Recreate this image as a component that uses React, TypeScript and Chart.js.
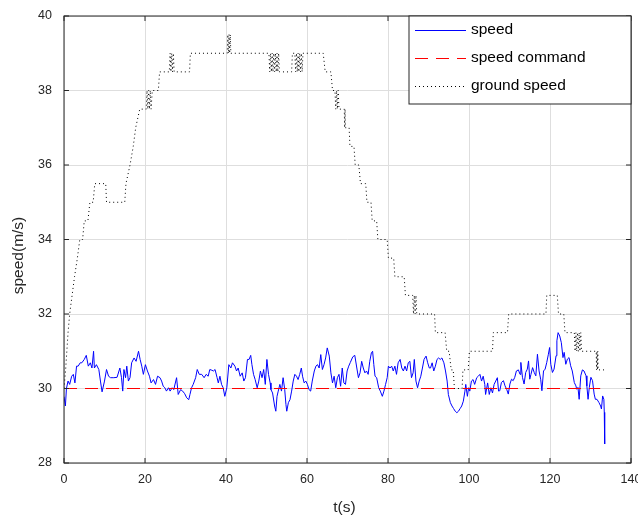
import React, { useEffect, useRef } from "react";
import { Chart, registerables } from "chart.js";

Chart.register(...registerables);

const xTickValues = [0, 20, 40, 60, 80, 100, 120, 140];
const yTickValues = [28, 30, 32, 34, 36, 38, 40];
const seriesLabels = ["speed", "speed command", "ground speed"];
const seriesColors = ["#0000ff", "#ff0000", "#000000"];
const seriesDashes: number[][] = [[], [13, 8], [1, 3]];
const xTitle = "t(s)";
const yTitle = "speed(m/s)";

// speed [t, v]
const speedPoints: [number, number][] = [
  [0, 29.78], [0.35, 29.53], [0.6, 30.0], [1.0, 30.2], [1.4, 30.11], [1.9, 30.33], [2.3, 30.38], [2.7, 30.15],
  [3.1, 30.6], [3.5, 30.6], [4.0, 30.69], [4.4, 30.69], [5.0, 30.78], [5.5, 30.89], [6.0, 30.6], [6.5, 30.69],
  [6.9, 30.55], [7.3, 31.0], [7.5, 30.55], [8.0, 30.64], [8.6, 30.51], [9.0, 30.2], [9.4, 29.91], [10.0, 30.2],
  [10.5, 30.51], [11.0, 30.33], [11.5, 30.29], [12.3, 30.29], [13.1, 30.3], [13.8, 30.55], [14.2, 30.29], [14.5, 29.93],
  [14.8, 30.51], [15.2, 30.29], [15.5, 30.6], [15.9, 30.2], [16.3, 30.29], [16.7, 30.69], [17.3, 30.82], [17.8, 30.73],
  [18.4, 31.0], [18.8, 30.78], [19.2, 30.6], [19.6, 30.38], [20.1, 30.64], [20.6, 30.47], [21.1, 30.33], [21.5, 30.15],
  [22.1, 30.24], [22.6, 30.11], [23.1, 30.33], [23.7, 30.29], [24.1, 30.2], [24.5, 30.06], [24.9, 30.02], [25.3, 29.93],
  [25.8, 30.02], [26.2, 29.93], [26.7, 30.02], [27.1, 29.97], [27.8, 30.29], [28.2, 29.84], [28.8, 29.97], [29.3, 29.93],
  [29.8, 29.86], [30.3, 29.75], [30.8, 29.7], [31.1, 29.84], [31.5, 30.02], [31.9, 30.11], [32.5, 30.29], [32.9, 30.51],
  [33.4, 30.38], [34.0, 30.38], [34.6, 30.29], [35.1, 30.38], [35.6, 30.33], [36.0, 30.51], [36.5, 30.49], [36.9, 30.47],
  [37.3, 30.51], [37.8, 30.29], [38.1, 30.15], [38.5, 30.33], [38.9, 30.11], [39.3, 30.02], [39.7, 29.79], [40.2, 30.02],
  [40.7, 30.64], [41.2, 30.55], [41.6, 30.69], [42.2, 30.6], [42.6, 30.47], [43.0, 30.55], [43.5, 30.33], [44.0, 30.42],
  [44.4, 30.2], [44.8, 30.29], [45.3, 30.78], [45.7, 30.78], [46.1, 30.89], [46.4, 30.64], [46.8, 30.38], [47.2, 30.24],
  [47.7, 30.02], [48.1, 30.2], [48.5, 30.47], [48.9, 30.29], [49.3, 30.51], [49.7, 30.11], [50.1, 30.78], [50.5, 30.38],
  [50.9, 30.15], [51.1, 29.97], [51.5, 29.88], [52.0, 29.53], [52.3, 29.39], [52.6, 29.79], [52.9, 29.93], [53.3, 30.11],
  [53.7, 29.93], [54.1, 30.29], [54.5, 29.97], [54.8, 29.57], [55.0, 29.39], [55.4, 29.62], [55.8, 29.7], [56.2, 29.93],
  [56.6, 30.2], [57.0, 30.38], [57.4, 30.33], [57.8, 30.24], [58.2, 30.38], [58.6, 30.55], [58.9, 30.33], [59.3, 30.15],
  [59.7, 30.2], [60.1, 30.11], [60.5, 29.97], [60.9, 29.93], [61.3, 30.2], [61.8, 30.47], [62.2, 30.6], [62.6, 30.64],
  [63.0, 30.55], [63.4, 30.91], [63.8, 30.51], [64.2, 30.64], [64.6, 30.82], [65.0, 31.09], [65.5, 30.87], [65.9, 30.42],
  [66.3, 30.15], [66.7, 30.33], [67.1, 30.02], [67.5, 30.29], [67.9, 30.38], [68.3, 30.06], [68.7, 30.55], [69.1, 30.15],
  [69.5, 30.11], [69.9, 30.47], [70.3, 30.6], [70.7, 30.7], [71.3, 30.85], [71.8, 30.89], [72.3, 30.55], [72.7, 30.29],
  [73.1, 30.42], [73.5, 30.73], [73.9, 30.55], [74.3, 30.42], [74.7, 30.47], [75.1, 30.38], [75.5, 30.73], [75.9, 30.96],
  [76.2, 31.0], [76.5, 30.64], [76.8, 30.33], [77.2, 30.29], [77.7, 30.02], [78.1, 29.93], [78.6, 29.79], [79.0, 29.93],
  [79.4, 30.11], [79.8, 30.29], [80.1, 30.6], [80.5, 30.55], [80.9, 30.6], [81.3, 30.47], [81.7, 30.6], [82.1, 30.38],
  [82.5, 30.69], [83.0, 30.78], [83.4, 30.55], [83.8, 30.47], [84.2, 30.6], [84.6, 30.47], [85.0, 30.69], [85.4, 30.73],
  [85.8, 30.29], [86.2, 30.42], [86.5, 30.78], [86.9, 30.2], [87.3, 30.02], [87.7, 30.2], [88.1, 30.33], [88.5, 30.55],
  [88.9, 30.78], [89.4, 30.87], [89.8, 30.69], [90.2, 30.55], [90.5, 30.55], [90.9, 30.69], [91.3, 30.47], [91.7, 30.6],
  [92.1, 30.78], [92.5, 30.82], [92.9, 30.78], [93.3, 30.82], [93.8, 30.69], [94.2, 30.47], [94.6, 30.2], [94.9, 29.84],
  [95.4, 29.62], [95.8, 29.53], [96.2, 29.46], [96.6, 29.39], [97.0, 29.35], [97.4, 29.39], [97.8, 29.46], [98.2, 29.53],
  [98.6, 29.66], [99.0, 29.93], [99.2, 30.11], [99.6, 29.79], [99.9, 30.02], [100.2, 29.93], [100.6, 30.2], [101.0, 30.24],
  [101.4, 30.11], [101.9, 30.29], [102.3, 30.33], [102.7, 30.38], [103.1, 30.2], [103.5, 30.33], [103.9, 30.11], [104.1, 29.84],
  [104.6, 30.15], [105.0, 29.84], [105.4, 30.02], [105.8, 29.88], [106.2, 30.11], [106.6, 30.2], [107.0, 30.29], [107.3, 29.93],
  [107.6, 29.94], [108.0, 30.16], [108.5, 30.21], [108.9, 30.07], [109.3, 29.98], [109.7, 29.85], [110.1, 30.12], [110.5, 30.25],
  [110.9, 30.21], [111.3, 30.3], [111.7, 30.47], [112.2, 30.5], [112.6, 30.38], [112.8, 30.7], [113.2, 30.3], [113.6, 30.12],
  [114.0, 30.43], [114.4, 30.52], [114.7, 30.74], [115.0, 30.25], [115.3, 30.38], [115.7, 30.56], [116.1, 30.43], [116.5, 30.34],
  [116.9, 30.92], [117.3, 30.47], [117.7, 30.25], [118.0, 29.94], [118.4, 30.47], [118.8, 30.52], [119.2, 30.7], [119.6, 30.92],
  [119.9, 31.1], [120.2, 30.65], [120.6, 30.43], [121.0, 30.52], [121.5, 30.88], [121.7, 31.28], [122.0, 31.5], [122.4, 31.41],
  [122.8, 31.23], [123.2, 30.83], [123.5, 30.97], [123.9, 30.65], [124.3, 30.79], [124.7, 30.83], [125.1, 30.61], [125.5, 30.47],
  [126.0, 30.16], [126.4, 30.07], [126.6, 29.98], [126.9, 30.03], [127.2, 29.71], [127.6, 30.34], [128.0, 30.5], [128.4, 30.47],
  [128.9, 30.34], [129.1, 30.07], [129.4, 29.71], [129.7, 30.03], [130.1, 30.3], [130.5, 30.21], [130.9, 29.85], [131.2, 29.71],
  [131.6, 29.71], [132.1, 29.62], [132.5, 29.53], [132.7, 29.45], [133.0, 29.8], [133.3, 29.71], [133.4, 29.36], [133.5, 28.51],
];

// speed command [t, v]
const commandPoints: [number, number][] = [[0, 30], [132.4, 30]];

// ground speed [t, v]
const groundPoints: [number, number][] = [
  [0, 30], [0.4, 30.5], [0.7, 31], [1.0, 31.5], [1.4, 32], [2.0, 32.5], [2.6, 33], [3.3, 33.5], [3.9, 34], [4.6, 34],
  [5.0, 34.5], [5.9, 34.5], [6.4, 35], [7.2, 35], [7.6, 35.5], [10.3, 35.5], [10.5, 35], [15.0, 35], [15.3, 35.5],
  [16.3, 36], [17.1, 36.5], [17.7, 37], [18.7, 37.5], [20.3, 37.5], [20.5, 38], [20.7, 37.5], [20.9, 38], [21.1, 37.5],
  [21.3, 38], [21.5, 37.5], [21.8, 38], [23.3, 38], [23.6, 38.5], [26.0, 38.5], [26.2, 39], [26.4, 38.5], [26.6, 39],
  [26.8, 38.5], [27.0, 39], [27.2, 38.5], [31.0, 38.5], [31.2, 39], [40.3, 39], [40.45, 39.5], [40.6, 39], [40.75, 39.5],
  [40.9, 39], [41.05, 39.5], [41.2, 39], [50.6, 39], [50.8, 38.5], [51.0, 39], [51.2, 38.5], [51.4, 39], [51.6, 38.5],
  [51.8, 39], [52.0, 38.5], [52.2, 39], [52.4, 38.5], [52.6, 39], [52.8, 38.5], [53.0, 39], [53.2, 38.5], [56.2, 38.5],
  [56.4, 39], [57.0, 39], [57.2, 38.5], [57.4, 39], [57.6, 38.5], [57.8, 39], [58.0, 38.5], [58.2, 39], [58.4, 38.5],
  [58.6, 39], [58.8, 38.5], [59.0, 39], [64.0, 39], [64.5, 38.5], [65.9, 38.5], [66.3, 38], [66.9, 38], [67.1, 37.5],
  [67.3, 38], [67.5, 37.5], [67.7, 38], [67.9, 37.5], [69.2, 37.5], [69.3, 37], [69.4, 37.5], [69.5, 37], [70.4, 37],
  [70.6, 36.5], [71.6, 36.5], [71.9, 36], [72.8, 36], [73.2, 35.5], [74.5, 35.5], [74.8, 35], [75.8, 35], [76.1, 34.5],
  [77.2, 34.5], [77.5, 34], [79.8, 34], [80.1, 33.5], [81.4, 33.5], [81.7, 33], [84.0, 33], [84.3, 32.5], [86.1, 32.5],
  [86.3, 32], [86.5, 32.5], [86.7, 32], [86.9, 32.5], [87.1, 32], [91.5, 32], [91.7, 31.5], [94.1, 31.5], [94.5, 31],
  [95.1, 31], [95.6, 30.5], [96.1, 30.5], [96.4, 30], [98.3, 30], [98.5, 30.5], [99.8, 30.5], [100.1, 31], [105.8, 31],
  [106.0, 31.5], [109.5, 31.5], [109.8, 32], [119.0, 32], [119.2, 32.5], [121.8, 32.5], [122.1, 32], [123.4, 32],
  [123.7, 31.5], [126.0, 31.5], [126.2, 31], [126.4, 31.5], [126.6, 31], [126.8, 31.5], [127.0, 31], [127.2, 31.5],
  [127.4, 31], [127.6, 31.5], [127.8, 31], [131.4, 31], [131.5, 30.5], [131.6, 31], [131.7, 30.5], [131.8, 31],
  [131.9, 30.5], [133.5, 30.5],
];

const FONT = "'Liberation Sans', Arial, Helvetica, sans-serif";
const AXIS_COLOR = "#262626";

const framePlugin = {
  id: "frame",
  afterDatasetsDraw(chart: any) {
    const { ctx, chartArea: a, scales } = chart;
    ctx.save();
    ctx.strokeStyle = AXIS_COLOR;
    ctx.lineWidth = 1;
    ctx.setLineDash([]);
    ctx.strokeRect(a.left, a.top, a.right - a.left, a.bottom - a.top);
    ctx.beginPath();
    for (const v of xTickValues) {
      const x = scales.x.getPixelForValue(v);
      ctx.moveTo(x, a.bottom);
      ctx.lineTo(x, a.bottom - 5);
      ctx.moveTo(x, a.top);
      ctx.lineTo(x, a.top + 5);
    }
    for (const v of yTickValues) {
      const y = scales.y.getPixelForValue(v);
      ctx.moveTo(a.left, y);
      ctx.lineTo(a.left + 5, y);
      ctx.moveTo(a.right, y);
      ctx.lineTo(a.right - 5, y);
    }
    ctx.stroke();

    ctx.fillStyle = AXIS_COLOR;
    ctx.font = `15.5px ${FONT}`;
    ctx.textAlign = "center";
    ctx.textBaseline = "middle";
    ctx.fillText(xTitle, (a.left + a.right) / 2 - 3, 508);
    ctx.save();
    ctx.translate(19, (a.top + a.bottom) / 2 + 16);
    ctx.rotate(-Math.PI / 2);
    ctx.fillText(yTitle, 0, 0);
    ctx.restore();

    const w = 222, h = 88;
    const lx = a.right - w, ly = a.top;
    ctx.fillStyle = "#ffffff";
    ctx.fillRect(lx, ly, w, h);
    ctx.strokeStyle = AXIS_COLOR;
    ctx.strokeRect(lx, ly, w, h);
    seriesLabels.forEach((label, i) => {
      const y = ly + 14 + i * 28;
      ctx.save();
      ctx.strokeStyle = seriesColors[i];
      ctx.lineWidth = 1;
      ctx.setLineDash(seriesDashes[i]);
      ctx.beginPath();
      ctx.moveTo(lx + 6, y + 0.5);
      ctx.lineTo(lx + 57, y + 0.5);
      ctx.stroke();
      ctx.restore();
      ctx.fillStyle = "#000";
      ctx.font = `15.5px ${FONT}`;
      ctx.textAlign = "left";
      ctx.textBaseline = "middle";
      ctx.fillText(label, lx + 62, y);
    });
    ctx.restore();
  },
};

export default function App() {
  const ref = useRef<HTMLCanvasElement | null>(null);
  useEffect(() => {
    if (!ref.current) return;
    const chart = new Chart(ref.current, {
      type: "line",
      data: {
        datasets: [
          {
            label: seriesLabels[0],
            data: speedPoints.map(([x, y]) => ({ x, y })),
            borderColor: seriesColors[0],
            borderWidth: 1,
            pointRadius: 0,
            tension: 0,
            order: 3,
          },
          {
            label: seriesLabels[1],
            data: commandPoints.map(([x, y]) => ({ x, y })),
            borderColor: seriesColors[1],
            borderWidth: 1,
            borderDash: seriesDashes[1],
            pointRadius: 0,
            order: 2,
          },
          {
            label: seriesLabels[2],
            data: groundPoints.map(([x, y]) => ({ x, y })),
            borderColor: seriesColors[2],
            borderWidth: 1,
            borderDash: seriesDashes[2],
            pointRadius: 0,
            tension: 0,
            order: 1,
          },
        ] as any,
      },
      options: {
        responsive: false,
        animation: false,
        layout: { padding: { left: 0, top: 16, right: 7, bottom: 0 } },
        plugins: { legend: { display: false }, tooltip: { enabled: false } },
        scales: {
          x: {
            type: "linear",
            min: 0,
            max: 140,
            afterBuildTicks: (s: any) => {
              s.ticks = xTickValues.map((value) => ({ value }));
            },
            afterFit: (s: any) => {
              s.height = 58;
              s.paddingLeft = 0;
              s.paddingRight = 0;
            },
            border: { display: false },
            grid: { color: "#dedede", lineWidth: 1, drawTicks: false },
            ticks: { padding: 9, color: AXIS_COLOR, font: { family: FONT, size: 12.5 }, maxRotation: 0 },
          },
          y: {
            type: "linear",
            min: 28,
            max: 40,
            afterBuildTicks: (s: any) => {
              s.ticks = yTickValues.map((value) => ({ value }));
            },
            afterFit: (s: any) => {
              s.width = 64;
              s.paddingTop = 0;
              s.paddingBottom = 0;
            },
            border: { display: false },
            grid: { color: "#dedede", lineWidth: 1, drawTicks: false },
            ticks: { padding: 12, color: AXIS_COLOR, font: { family: FONT, size: 12.5 } },
          },
        },
      },
      plugins: [framePlugin],
    });
    return () => chart.destroy();
  }, []);
  return (
    <div style={{ position: "absolute", left: 0, top: 0, width: 638, height: 521, background: "#fff" }}>
      <canvas ref={ref} width={638} height={521} />
    </div>
  );
}
